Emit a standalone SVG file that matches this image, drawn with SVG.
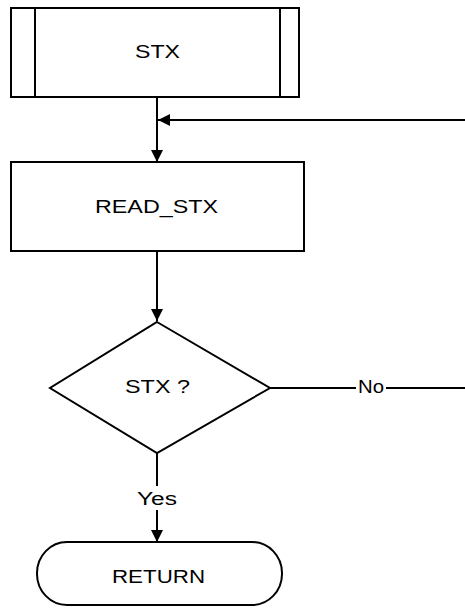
<svg xmlns="http://www.w3.org/2000/svg" width="465" height="609" viewBox="0 0 465 609">
<style>
.s{fill:#fff;stroke:#000;stroke-width:2}
.l{fill:none;stroke:#000;stroke-width:2}
.t{font-family:"Liberation Sans",Arial,sans-serif;font-size:18px;fill:#000;text-anchor:middle}
</style>
<defs>
<marker id="a" viewBox="0 0 12 12" refX="12" refY="6" markerWidth="12" markerHeight="12" markerUnits="userSpaceOnUse" orient="auto">
<path d="M0,0 L12,6 L0,12 Z" fill="#000"/>
</marker>
</defs>
<rect width="465" height="609" fill="#fff"/>
<g id="connectors">
<line class="l" x1="157" y1="97" x2="157" y2="162" marker-end="url(#a)"/>
<line class="l" x1="465" y1="120" x2="158" y2="120" marker-end="url(#a)"/>
<line class="l" x1="157" y1="251" x2="157" y2="321" marker-end="url(#a)"/>
<line class="l" x1="270" y1="388" x2="356" y2="388"/>
<line class="l" x1="386" y1="388" x2="465" y2="388"/>
<text class="t" x="371" y="393" textLength="26" lengthAdjust="spacingAndGlyphs">No</text>
<line class="l" x1="157" y1="453" x2="157" y2="486"/>
<text class="t" x="157" y="505" textLength="40" lengthAdjust="spacingAndGlyphs">Yes</text>
<line class="l" x1="157" y1="510" x2="157" y2="542" marker-end="url(#a)"/>
</g>
<g id="stx">
<rect class="s" x="11" y="8" width="288" height="89"/>
<line class="l" x1="35" y1="8" x2="35" y2="97"/>
<line class="l" x1="280" y1="8" x2="280" y2="97"/>
<text class="t" x="157.5" y="58" textLength="45" lengthAdjust="spacingAndGlyphs">STX</text>
</g>
<g id="read_stx">
<rect class="s" x="11" y="162" width="293" height="89"/>
<text class="t" x="156.5" y="213" textLength="123" lengthAdjust="spacingAndGlyphs">READ_STX</text>
</g>
<g id="decision">
<polygon class="s" points="157,322 270,388 157,453 50,388"/>
<text class="t" x="157.5" y="393" textLength="65" lengthAdjust="spacingAndGlyphs">STX ?</text>
</g>
<g id="return">
<rect class="s" x="37" y="542" width="245" height="63" rx="30" ry="31"/>
<text class="t" x="158.5" y="583" textLength="93" lengthAdjust="spacingAndGlyphs">RETURN</text>
</g>
</svg>
